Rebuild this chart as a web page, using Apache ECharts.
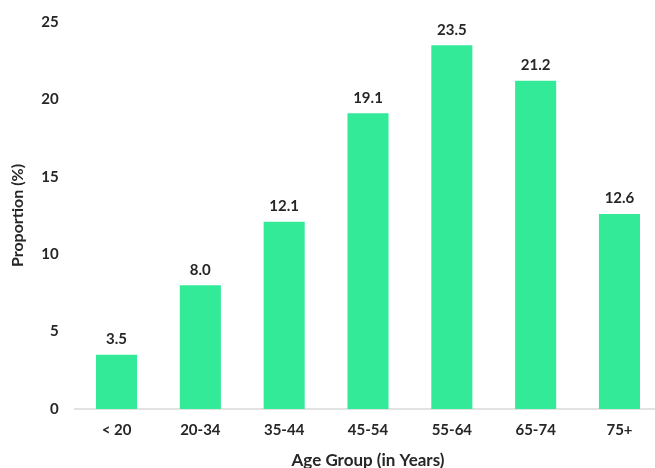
<!DOCTYPE html>
<html><head><meta charset="utf-8">
<script src="https://cdn.jsdelivr.net/npm/echarts@6/dist/echarts.min.js"></script>
<style>html,body{margin:0;padding:0;background:#fff}#c{width:655px;height:468px}</style>
</head><body><div id="c"></div>
<script>
var categories = ['< 20','20-34','35-44','45-54','55-64','65-74','75+'];
var values = [3.5, 8.0, 12.1, 19.1, 23.5, 21.2, 12.6];
var yTicks = [0,5,10,15,20,25];
var FONT = 'Lato, "Open Sans", sans-serif';
var chart = echarts.init(document.getElementById('c'));
chart.setOption({
  animation:false,
  grid:{left:74.6, top:22, width:586.8, height:387, containLabel:false, outerBoundsMode:'none'},
  xAxis:{type:'category', data:categories,
    axisLine:{lineStyle:{color:'#d9d9d9', width:1.5}}, axisTick:{show:false},
    axisLabel:{color:'#262626', fontFamily:FONT, fontWeight:'bold', fontSize:15, margin:14},
    name:'Age Group (in Years)', nameLocation:'middle', nameGap:43,
    nameTextStyle:{color:'#262626', fontFamily:FONT, fontWeight:'bold', fontSize:17}},
  yAxis:{type:'value', min:yTicks[0], max:yTicks[yTicks.length-1], interval:5,
    splitLine:{show:false}, axisLine:{show:false}, axisTick:{show:false},
    axisLabel:{color:'#262626', fontFamily:FONT, fontWeight:'bold', fontSize:15, margin:16},
    name:'Proportion (%)', nameLocation:'middle', nameGap:49, nameRotate:90,
    nameTextStyle:{color:'#262626', fontFamily:FONT, fontWeight:'bold', fontSize:16}},
  series:[{type:'bar', data:values, barWidth:'49%',
    itemStyle:{color:'#33ea98'},
    label:{show:true, position:'top', distance:8, color:'#262626', fontFamily:FONT, fontWeight:'bold', fontSize:15,
      formatter:function(p){return p.value.toFixed(1);}}}]
});
</script></body></html>
